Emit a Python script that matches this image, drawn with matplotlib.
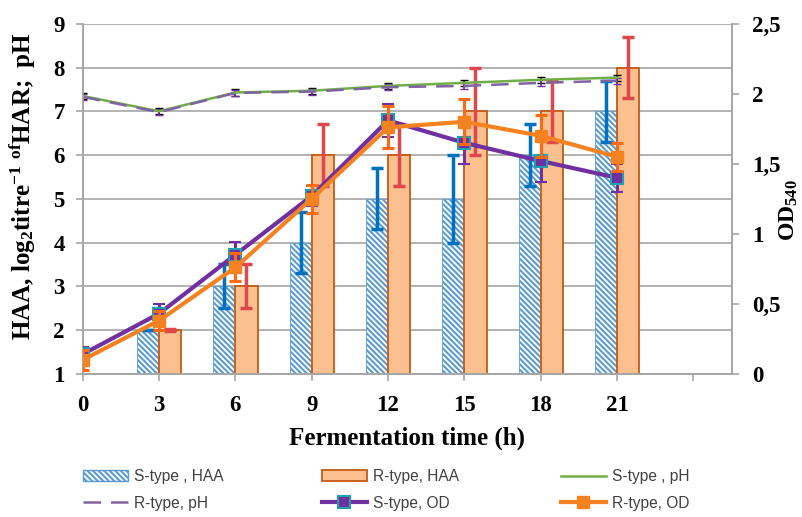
import numpy as np
import matplotlib
matplotlib.use("Agg")
import matplotlib.pyplot as plt
from matplotlib.patches import Patch
from matplotlib.lines import Line2D

plt.rcParams['font.family'] = 'Liberation Serif'
plt.rcParams['mathtext.fontset'] = 'custom'
plt.rcParams['mathtext.rm'] = 'Liberation Serif:bold'
plt.rcParams['mathtext.it'] = 'Liberation Serif:bold'
plt.rcParams['mathtext.bf'] = 'Liberation Serif:bold'
plt.rcParams['mathtext.default'] = 'rm'
plt.rcParams['hatch.color'] = '#2E75B6'
plt.rcParams['hatch.linewidth'] = 1.5

# data
times = ['0', '3', '6', '9', '12', '15', '18', '21', '']
s_haa = [1, 2, 3, 4, 5, 5, 6, 7]
s_haa_err = [0, 0, 0.5, 0.7, 0.7, 1.0, 0.7, 0.7]
r_haa = [1, 2, 3, 6, 6, 7, 7, 8]
r_haa_err = [0, 0.02, 0.5, 0.7, 0.7, 1.0, 0.7, 0.7]

s_ph = [7.35, 7.0, 7.43, 7.47, 7.58, 7.65, 7.72, 7.77]
r_ph = [7.33, 6.98, 7.42, 7.45, 7.55, 7.58, 7.65, 7.70]
ph_err = [0.07, 0.07, 0.07, 0.07, 0.07, 0.07, 0.07, 0.07]

s_od = [0.14, 0.43, 0.85, 1.27, 1.81, 1.65, 1.52, 1.40]
s_od_err = [0.05, 0.07, 0.09, 0.07, 0.12, 0.15, 0.15, 0.10]
r_od = [0.10, 0.38, 0.76, 1.25, 1.76, 1.80, 1.70, 1.55]
r_od_err = [0.07, 0.07, 0.10, 0.10, 0.15, 0.16, 0.15, 0.10]

x = np.arange(len(s_haa))
w = 0.29

fig = plt.figure(figsize=(8.03, 5.17), dpi=100)
ax = fig.add_axes([0.103, 0.277, 0.808, 0.677])
ax2 = ax.twinx()

grid_c = '#A6A6A6'
ax.set_axisbelow(True)
ax.yaxis.grid(True, color=grid_c, lw=1.2)

s_h = np.array(s_haa) - 1
r_h = np.array(r_haa) - 1
ax.bar(x - w / 2, s_h, w, bottom=1, facecolor='white', edgecolor='#5B9BD5',
       hatch='\\\\\\\\\\\\', lw=0.6, zorder=2)
ax.bar(x + w / 2, r_h, w, bottom=1, facecolor='#FAC090', edgecolor='#C55A11',
       lw=1.3, zorder=2)
ax.errorbar(x[1:] - w / 2, s_haa[1:], yerr=s_haa_err[1:], fmt='none', ecolor='#0070C0',
            elinewidth=2.5, capsize=4, capthick=2.5, zorder=3)
ax.errorbar(x[1:] + w / 2, r_haa[1:], yerr=r_haa_err[1:], fmt='none', ecolor='#E0474C',
            elinewidth=2.5, capsize=4, capthick=2.5, zorder=3)

ax.errorbar(x, s_ph, yerr=ph_err, color='#70AD47', lw=1.8, ecolor='black',
            elinewidth=1.2, capsize=3, zorder=4)
ax.errorbar(x, r_ph, yerr=ph_err, color='#8064A2', lw=1.8, ls=(0, (7, 4)),
            ecolor='#7030A0', elinewidth=1.2, capsize=3, zorder=4)

ax2.errorbar(x, s_od, yerr=s_od_err, color='#7030A0', lw=3, marker='s', ms=9,
             mfc='#7030A0', mec='#1FA0B0', mew=1.5, ecolor='#7030A0',
             elinewidth=2.2, capsize=4, capthick=2.2, zorder=5)
ax2.errorbar(x, r_od, yerr=r_od_err, color='#F58220', lw=3, marker='s', ms=8,
             mfc='#F58220', mec='#F58220', ecolor='#FF6A10',
             elinewidth=2.2, capsize=4, capthick=2.2, zorder=6)

ax.set_xlim(0, 8.5)
ax.set_ylim(1, 9)
ax2.set_ylim(0, 2.5)
ax.set_xticks(np.arange(len(times)))
ax.set_xticklabels(times)
ax.set_yticks(range(1, 10))
ax2.set_yticks([0, 0.5, 1, 1.5, 2, 2.5])
ax2.set_yticklabels(['0', '0,5', '1', '1,5', '2', '2,5'])

for a in (ax, ax2):
    a.spines['top'].set_visible(False)
    for s in ('left', 'right', 'bottom'):
        a.spines[s].set_color(grid_c)
        a.spines[s].set_linewidth(1.2)
    a.tick_params(labelsize=16.5, color=grid_c, width=1.2, length=5)
    for lab in a.get_xticklabels() + a.get_yticklabels():
        lab.set_fontweight('bold')
ax.tick_params(axis='y', length=5, pad=8)
ax.tick_params(axis='x', pad=10)
ax2.tick_params(axis='y', pad=10)

ax.set_xlabel('Fermentation time (h)', fontsize=18, fontweight='bold', labelpad=8)
fig.text(22 / 803, 1 - 186 / 517, r'HAA, log$_2$titre$^{-1}$ $^{of}$HAR;  pH',
         fontsize=18, fontweight='bold', rotation=90, ha='center', va='center')
fig.text(789 / 803, 1 - 210 / 517, r'OD$_{540}$', fontsize=17, fontweight='bold',
         rotation=90, ha='center', va='center')

leg_font = {'family': 'Liberation Sans', 'size': 11.2}
col1 = [Patch(facecolor='white', edgecolor='#5B9BD5', hatch='\\\\\\\\\\\\'),
        Line2D([], [], color='#8064A2', lw=1.8, ls=(0, (7, 4)))]
col2 = [Patch(facecolor='#FAC090', edgecolor='#C55A11', lw=1.3),
        Line2D([], [], color='#7030A0', lw=3, marker='s', ms=9, mfc='#7030A0',
               mec='#1FA0B0', mew=1.5)]
col3 = [Line2D([], [], color='#70AD47', lw=1.8),
        Line2D([], [], color='#F58220', lw=3, marker='s', ms=8)]
labels = [['S-type , HAA', 'R-type, pH'], ['R-type, HAA', 'S-type, OD'],
          ['S-type , pH', 'R-type, OD']]
for i, (hs, xpos) in enumerate(zip([col1, col2, col3], [0.086, 0.383, 0.681])):
    leg = fig.legend(hs, labels[i], loc='upper left', bbox_to_anchor=(xpos, 0.12),
                     frameon=False, prop=leg_font, handlelength=2.9,
                     handletextpad=0.4, labelspacing=0.75)
    for t in leg.get_texts():
        t.set_color('#404040')

fig.savefig('out.png', dpi=100)
